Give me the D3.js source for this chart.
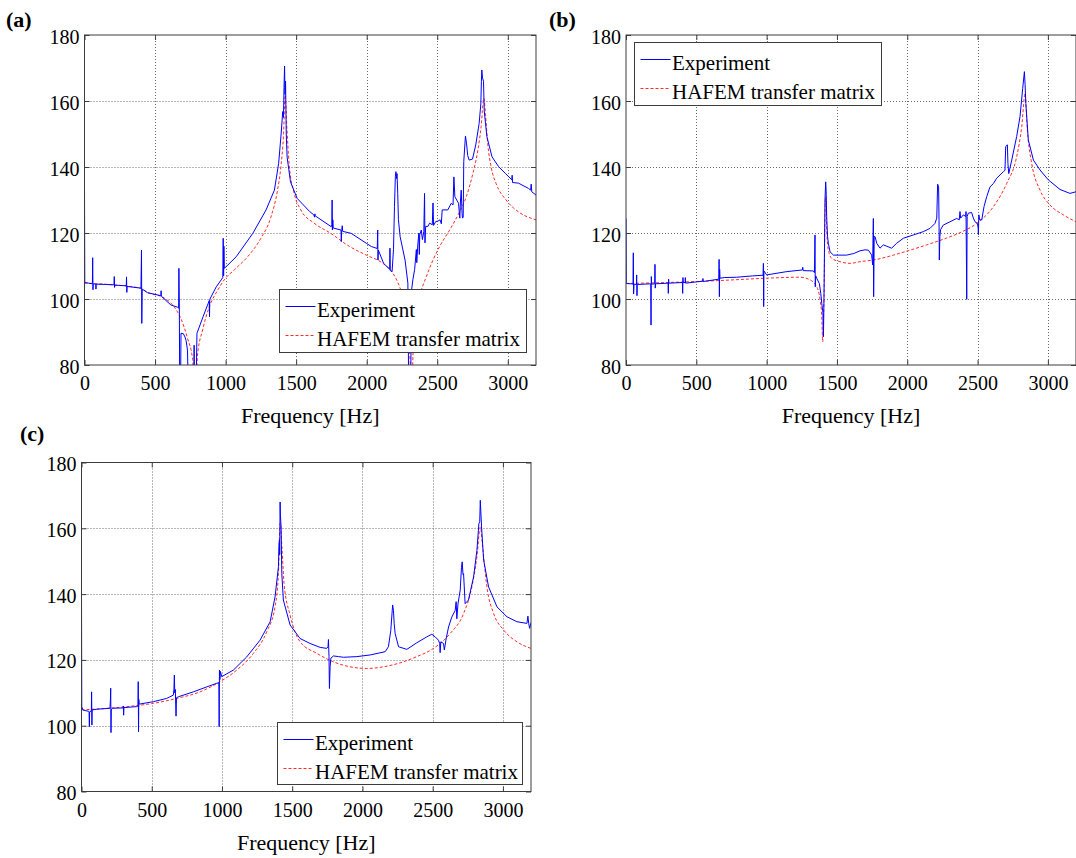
<!DOCTYPE html>
<html>
<head>
<meta charset="utf-8">
<script src="https://cdn.jsdelivr.net/npm/d3@7"></script>
<style>
  body { margin: 0; background: #fff; }
  svg { display: block; }
</style>
</head>
<body>
<svg id="fig" width="1076" height="858" font-family="Liberation Serif"></svg>
<script>
// ---- axis ticks and labels ----
const freqTicks = [0, 500, 1000, 1500, 2000, 2500, 3000];
const levelTicks = [80, 100, 120, 140, 160, 180];
const freqDomain = [0, 3200];
const levelDomain = [80, 180];
const xTitle = "Frequency [Hz]";
const seriesNames = ["Experiment", "HAFEM transfer matrix"];
const panelLetters = ["(a)", "(b)", "(c)"];

// ---- (a) measured and modelled response, [frequency Hz, level dB] ----
const expA = [[0,133],[2,105],[30,104.8],[56,104.6],[58,112.5],[60,102.8],[62,104.6],[80,104.5],[81,103],[83,104.5],[150,104.4],[209,104.3],[211,106.8],[213,103.5],[215,104.2],[296,104],[298,106.7],[300,102],[302,103.8],[400,103.3],[404,114.8],[406,92.6],[409,103],[447,101.9],[500,101.4],[541,101],[543,102.5],[545,100.8],[612,98.2],[660,97.5],[667,97.2],[669,109.3],[672,99],[675,70],[680,70],[684,89.6],[700,89.5],[712,88.5],[720,87.4],[730,84.5],[737,70],[775,70],[777,86],[779,70],[790,70],[797,89.6],[840,94.6],[884,99.5],[886,94.6],[888,99.9],[934,103.7],[969,105.8],[980,106.5],[983,118.4],[986,107],[988,116],[991,109.3],[1016,110.3],[1075,112.8],[1193,119.9],[1287,127],[1346,133],[1376,141.1],[1393,149.7],[1405,156.8],[1410,155],[1414,164],[1418,170.6],[1421,162],[1425,166],[1430,150],[1436,143],[1460,135.5],[1507,130.5],[1596,126.5],[1625,125.5],[1631,124.8],[1633,125.8],[1635,125.2],[1749,121.9],[1753,122.5],[1755,130],[1757,120.9],[1760,124],[1763,121.5],[1818,120.9],[1820,117.4],[1823,120.8],[1827,122.2],[1830,120.5],[1890,119.9],[1997,116.9],[2033,115.9],[2075,115.3],[2078,120.9],[2080,111.8],[2083,114.8],[2120,110.8],[2163,109],[2165,115.4],[2167,108.6],[2180,108.3],[2190,115],[2197,128],[2203,137],[2207,138.6],[2212,136.5],[2215,138],[2220,132],[2225,124],[2237,118.9],[2272,111.8],[2292,104.8],[2298,70],[2312,70],[2316,102],[2328,106],[2340,109],[2352,115],[2355,111],[2363,116.9],[2370,120],[2373,113.5],[2376,119.5],[2387,120.9],[2395,118],[2405,120.5],[2410,132],[2413,117],[2418,122],[2434,122],[2446,123],[2465,122.5],[2470,129.1],[2474,122.3],[2490,123.5],[2505,123.6],[2520,124],[2529,122.8],[2535,127],[2575,127],[2599,129],[2612,128.5],[2618,137],[2625,131],[2651,129],[2660,124.5],[2665,130],[2670,133],[2676,126],[2679,124.5],[2684,124.8],[2688,141.6],[2700,149.4],[2708,147],[2716,143.5],[2726,142.1],[2750,142.4],[2773,146.7],[2797,153.2],[2809,159.1],[2813,166],[2816,169.4],[2821,167],[2828,166],[2833,157],[2852,149.2],[2888,143.1],[2935,140.1],[2982,138.1],[3029,136.1],[3031,137.5],[3034,135.3],[3076,135.1],[3147,133.5],[3162,133],[3166,134.8],[3170,132.5],[3185,132],[3200,131.5]];
const modelA = [[0,104.8],[200,104.3],[400,103.2],[447,102],[565,100.3],[636,97.6],[683,94.1],[730,88.1],[766,81.7],[780,72],[788,72],[801,83],[837,90.6],[884,97.6],[943,102.6],[990,105.8],[1061,108.8],[1156,112.8],[1250,118.4],[1321,124.8],[1368,133],[1392,140.1],[1411,150.2],[1422,161.8],[1434,152.2],[1450,141.1],[1486,132],[1533,127],[1627,123],[1745,119.9],[1879,115.9],[1997,113.3],[2115,110.8],[2186,107.8],[2233,103.7],[2268,98.7],[2292,90.6],[2311,78],[2318,70],[2322,70],[2327,81.5],[2340,92.6],[2375,100.7],[2423,106.8],[2470,111.8],[2517,115.9],[2588,120.9],[2658,126.4],[2706,131],[2753,138.1],[2788,145.1],[2811,152.2],[2830,160.8],[2842,156],[2858,147],[2882,140],[2917,135],[2988,130],[3076,126.4],[3170,124.4],[3200,124]];

// ---- (b) ----
const expB = [[0,124.4],[2,104.7],[40,104.6],[50,104.5],[52,114],[54,101.5],[57,104.5],[74,104.4],[76,107.3],[78,101],[80,104.4],[176,104.6],[178,92.1],[180,106.8],[182,104.5],[204,104.6],[206,110.5],[208,103.3],[210,104.6],[299,104.8],[301,101.7],[303,106],[305,104.8],[401,105],[403,101.7],[405,106.5],[407,105],[420,105],[422,106.5],[424,104.8],[545,105.4],[547,106.2],[549,105.3],[660,106],[662,112],[664,100.7],[666,109],[668,106.3],[700,106.5],[787,106.6],[900,107],[975,107.2],[977,110.8],[979,97.7],[981,108.5],[1000,107.3],[1143,108.3],[1254,108.8],[1257,109.6],[1260,108.6],[1332,108.5],[1340,108],[1344,119.4],[1346,103.7],[1349,107],[1356,106.3],[1375,104.7],[1385,101.7],[1392,98.7],[1400,96],[1404,88.6],[1408,100.8],[1415,130],[1420,135.5],[1423,133],[1427,125],[1433,119],[1439,116.9],[1451,114.3],[1475,113.3],[1569,113.3],[1620,113.8],[1664,114.6],[1700,114.9],[1724,114.8],[1747,113.3],[1754,110.3],[1759,124.4],[1761,100.7],[1765,119],[1771,118.9],[1783,116.9],[1806,115.4],[1830,116.4],[1854,116],[1889,115.4],[1925,116.9],[1972,118.4],[2043,119.4],[2114,120.4],[2162,121.4],[2197,122.9],[2210,124.5],[2216,134.8],[2223,134],[2226,124],[2228,111.8],[2232,118.9],[2237,121],[2256,122.4],[2304,123.4],[2351,124.4],[2370,124],[2375,126.5],[2380,124.5],[2399,125.5],[2416,125],[2418,126.5],[2423,99.9],[2426,125],[2434,126],[2458,126.2],[2470,124.5],[2482,123.4],[2499,122.9],[2504,121.5],[2506,119.5],[2509,125.5],[2515,124],[2530,124],[2546,128],[2565,131],[2589,134],[2613,135],[2636,136.6],[2660,137.6],[2684,138.6],[2695,139],[2700,146.2],[2712,146.7],[2716,141],[2722,138],[2743,142.1],[2778,149.2],[2802,155.3],[2821,163.8],[2833,168.9],[2838,165],[2843,159.3],[2861,148.2],[2897,142.1],[2944,139.1],[3003,136.1],[3086,133.2],[3157,132],[3200,132.5]];
const modelB = [[0,104.7],[300,105],[668,105.6],[1000,106.3],[1238,106.6],[1309,105.8],[1356,103.7],[1380,99.7],[1392,94.6],[1399,87],[1403,92],[1408,100.7],[1415,125],[1420,131],[1427,120.9],[1439,114.8],[1463,112.3],[1522,111.3],[1593,110.8],[1664,111.3],[1783,112],[1901,113.3],[2020,114.8],[2138,116.4],[2256,118.1],[2375,120.1],[2494,122.9],[2613,128],[2707,135],[2778,143.1],[2814,152.2],[2838,162.3],[2854,151.2],[2885,141.1],[2944,133],[3015,128.5],[3110,125.5],[3200,123.4]];

// ---- (c) ----
const expC = [[0,139.7],[2,105.8],[10,104.8],[25,104.6],[49,104.4],[54,104.3],[56,99.7],[58,104.2],[70,104.5],[72,110.3],[74,100.2],[76,104.8],[108,105],[203,105.3],[206,108],[208,111.4],[210,97.9],[212,104.8],[220,105.3],[296,105.4],[298,106],[300,103.2],[302,105.5],[393,105.8],[402,106],[404,113.4],[406,98.2],[408,108],[410,106.6],[417,106.6],[512,107.3],[607,108.3],[654,109.3],[658,111],[661,115.4],[664,110],[668,111],[673,102.9],[676,108.5],[690,108.8],[797,110.3],[892,111.8],[963,112.9],[978,113],[980,99.7],[982,116.9],[985,114],[989,116.5],[998,114.9],[1081,116.9],[1176,120.9],[1271,126],[1343,131.6],[1378,139.2],[1402,148.3],[1406,155],[1409,156.4],[1411,152],[1414,168],[1416,164],[1421,160.4],[1426,146.3],[1437,138.2],[1485,130.6],[1556,126.5],[1627,125],[1699,123.8],[1746,123.5],[1755,124],[1758,126.2],[1762,121],[1765,111.3],[1770,118],[1775,120.5],[1794,121.2],[1830,121],[1865,120.8],[1960,121],[2055,121.5],[2162,122.5],[2185,124],[2202,129],[2215,136.7],[2221,135],[2226,131],[2233,128],[2257,124],[2316,123.2],[2387,125.2],[2458,127],[2494,127.8],[2518,127],[2541,126],[2550,125],[2553,122.2],[2558,125.5],[2577,125],[2583,123],[2594,126],[2613,130],[2636,133],[2660,135],[2667,137.7],[2672,132.5],[2680,137],[2696,141.2],[2705,148],[2710,149.8],[2716,146],[2720,146.2],[2731,137.1],[2755,138.2],[2791,145.2],[2815,153.3],[2829,161.4],[2835,162],[2839,168.5],[2843,165],[2848,160.4],[2863,150.3],[2898,142.2],[2958,136.1],[3029,133.1],[3100,131.6],[3171,131.1],[3178,133.3],[3184,131],[3190,129.6],[3200,131.3]];
const modelC = [[0,104.8],[322,105.8],[512,106.8],[678,108.3],[844,110.3],[987,113.4],[1105,116.9],[1224,122],[1319,128.6],[1378,136.2],[1402,146.3],[1414,161.5],[1428,153.4],[1442,143.2],[1485,133.6],[1556,125.5],[1675,122],[1794,119.4],[1912,117.9],[2031,117.4],[2150,117.9],[2268,119.1],[2387,121],[2506,123.5],[2624,128],[2720,134.1],[2779,142.2],[2815,151.3],[2839,160.4],[2858,153.3],[2886,142.2],[2934,134.1],[3005,129.1],[3100,125.5],[3200,123.5]];

// ---- layout of the three panels ----
const layout = [
  { exp: expA, model: modelA, letter: panelLetters[0],
    plot: { left: 84.5, right: 536, top: 35, bottom: 365 },
    legend: { x: 279.5, y: 289.5, w: 247, h: 63 }, letterPos: { x: 6, y: 27 } },
  { exp: expB, model: modelB, letter: panelLetters[1],
    plot: { left: 626, right: 1076, top: 35, bottom: 365 },
    legend: { x: 634.5, y: 42.5, w: 247, h: 63 }, letterPos: { x: 549, y: 27 } },
  { exp: expC, model: modelC, letter: panelLetters[2],
    plot: { left: 81.5, right: 531, top: 462.5, bottom: 791.5 },
    legend: { x: 277.5, y: 722.5, w: 245, h: 62 }, letterPos: { x: 20, y: 441 } }
];

const FONT = "Liberation Serif";
const svg = d3.select("#fig");
const axisColor = "#3c3c3c";
const gridColor = "#6e6e6e";

// every text element gets the serif face explicitly
const serif = (sel, size, weight) => sel
  .attr("font-family", FONT).style("font-family", FONT)
  .style("font-size", size + "px").style("font-weight", weight || "normal");

layout.forEach((p, i) => {
  const { left, right, top, bottom } = p.plot;
  const x = d3.scaleLinear().domain(freqDomain).range([left, right]);
  const y = d3.scaleLinear().domain(levelDomain).range([bottom, top]);
  const g = svg.append("g");

  // panel letter
  g.append("text")
    .attr("x", p.letterPos.x).attr("y", p.letterPos.y)
    .call(serif, 22, "bold")
    .text(p.letter);

  // dotted grid
  const grid = g.append("g")
    .attr("stroke", gridColor).attr("stroke-width", 1)
    .attr("stroke-dasharray", "1,2");
  grid.selectAll("line.v").data(freqTicks.filter(t => t > freqDomain[0] && t < freqDomain[1]))
    .join("line").attr("class", "v")
    .attr("x1", d => Math.round(x(d)) + 0.5).attr("x2", d => Math.round(x(d)) + 0.5)
    .attr("y1", top).attr("y2", bottom);
  grid.selectAll("line.h").data(levelTicks.filter(t => t > levelDomain[0] && t < levelDomain[1]))
    .join("line").attr("class", "h")
    .attr("y1", d => Math.round(y(d)) + 0.5).attr("y2", d => Math.round(y(d)) + 0.5)
    .attr("x1", left).attr("x2", right);

  // clip to the plotting box
  const clipId = "clip" + i;
  g.append("clipPath").attr("id", clipId)
    .append("rect").attr("x", left).attr("y", top)
    .attr("width", right - left).attr("height", bottom - top);

  const plotLine = d3.line().x(d => x(d[0])).y(d => y(d[1]));
  const modelLine = d3.line().x(d => x(d[0])).y(d => y(d[1])).curve(d3.curveMonotoneX);

  const curves = g.append("g").attr("clip-path", `url(#${clipId})`);
  curves.append("path").datum(p.model)
    .attr("d", modelLine)
    .attr("fill", "none").attr("stroke", "#ff2a2a").attr("stroke-width", 1)
    .attr("stroke-dasharray", "3,2");
  curves.append("path").datum(p.exp)
    .attr("d", plotLine)
    .attr("fill", "none").attr("stroke", "#0000ff").attr("stroke-width", 1)
    .attr("stroke-linejoin", "round");

  // axes with inward ticks on all four sides
  const styleAxis = sel => {
    sel.attr("font-family", FONT);
    sel.select(".domain").remove();
    sel.selectAll(".tick line").attr("stroke", axisColor);
    sel.selectAll(".tick text").call(serif, 20).attr("fill", "#000");
  };
  g.append("g").attr("transform", `translate(0,${bottom})`)
    .call(d3.axisBottom(x).tickValues(freqTicks).tickSize(-5).tickPadding(11).tickFormat(d3.format("d")))
    .call(styleAxis);
  g.append("g").attr("transform", `translate(0,${top})`)
    .call(d3.axisTop(x).tickValues(freqTicks).tickSize(-5).tickFormat(""))
    .call(styleAxis);
  g.append("g").attr("transform", `translate(${left},0)`)
    .call(d3.axisLeft(y).tickValues(levelTicks).tickSize(-5).tickPadding(5).tickFormat(d3.format("d")))
    .call(styleAxis)
    .selectAll(".tick text").attr("dy", "0.4em");
  g.append("g").attr("transform", `translate(${right},0)`)
    .call(d3.axisRight(y).tickValues(levelTicks).tickSize(-5).tickFormat(""))
    .call(styleAxis);

  // axes box
  g.append("rect")
    .attr("x", left).attr("y", top)
    .attr("width", right - left).attr("height", bottom - top)
    .attr("fill", "none").attr("stroke", axisColor).attr("stroke-width", 1);

  // x-axis title
  g.append("text")
    .attr("x", (left + right) / 2).attr("y", bottom + 58)
    .attr("text-anchor", "middle")
    .call(serif, 22)
    .text(xTitle);

  // legend
  const L = p.legend;
  const lg = g.append("g");
  lg.append("rect").attr("x", L.x).attr("y", L.y).attr("width", L.w).attr("height", L.h)
    .attr("fill", "#fff").attr("stroke", axisColor).attr("stroke-width", 1);
  const rows = [
    { name: seriesNames[0], color: "#0000ff", dash: null },
    { name: seriesNames[1], color: "#ff2a2a", dash: "3,2" }
  ];
  rows.forEach((r, k) => {
    const ry = Math.round(L.y + 16 + k * 29) + 0.5;
    lg.append("line")
      .attr("x1", L.x + 6).attr("x2", L.x + 36).attr("y1", ry).attr("y2", ry)
      .attr("stroke", r.color).attr("stroke-width", 1)
      .attr("stroke-dasharray", r.dash);
    lg.append("text")
      .attr("x", L.x + 37.5).attr("y", ry + 10)
      .call(serif, 21)
      .text(r.name);
  });
});
</script>
</body>
</html>
